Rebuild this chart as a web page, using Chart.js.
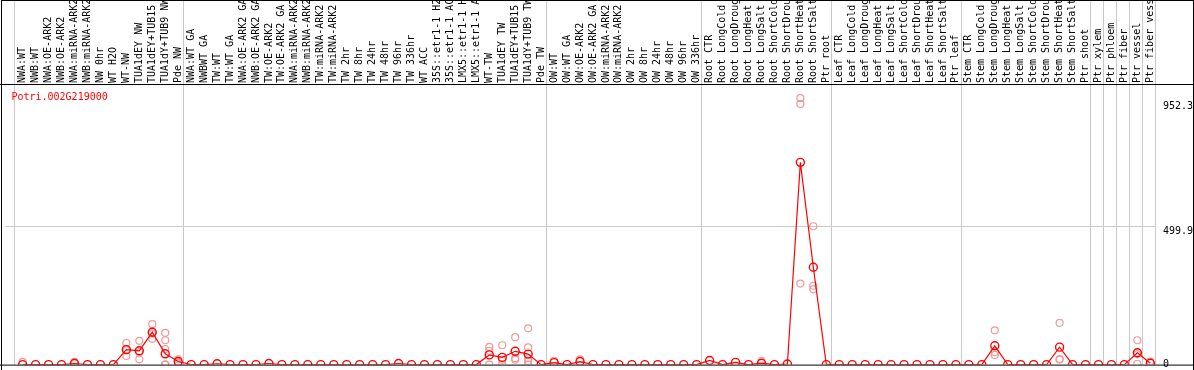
<!DOCTYPE html>
<html>
<head>
<meta charset="utf-8">
<script src="https://cdn.jsdelivr.net/npm/chart.js@4/dist/chart.umd.min.js"></script>
<style>
  html, body { margin: 0; padding: 0; background: #fff; }
  #wrap { width: 1194px; height: 370px; }
</style>
</head>
<body>
<div id="wrap"><canvas id="myChart" width="1194" height="370"></canvas></div>
<script>
const geneName = "Potri.002G219000";

const labels = [
	"NWA:WT", "NWB:WT", "NWA:OE-ARK2", "NWB:OE-ARK2", "NWA:miRNA-ARK2", "NWB:miRNA-ARK2",
	"NW 0hr", "WT H2O", "WT-NW", "TUA1dEY NW", "TUA1dEY+TUB15", "TUA1dY+TUB9 NW", "Pde NW",
	"NWA:WT GA", "NWBWT GA", "TW:WT", "TW:WT GA", "NWA:OE-ARK2 GA", "NWB:OE-ARK2 GA",
	"TW:OE-ARK2", "TW:OE-ARK2 GA", "NWA:miRNA-ARK2", "NWB:miRNA-ARK2", "TW:miRNA-ARK2",
	"TW:miRNA-ARK2", "TW 2hr", "TW 8hr", "TW 24hr", "TW 48hr", "TW 96hr", "TW 336hr",
	"WT ACC", "35S::etr1-1 H2O", "35S::etr1-1 ACC", "LMX5::etr1-1 H2O", "LMX5::etr1-1 ACC",
	"WT-TW", "TUA1dEY TW", "TUA1dEY+TUB15", "TUA1dY+TUB9 TW", "Pde TW",
	"OW:WT", "OW:WT GA", "OW:OE-ARK2", "OW:OE-ARK2 GA", "OW:miRNA-ARK2", "OW:miRNA-ARK2",
	"OW 2hr", "OW 8hr", "OW 24hr", "OW 48hr", "OW 96hr", "OW 336hr",
	"Root CTR", "Root LongCold", "Root LongDrought", "Root LongHeat", "Root LongSalt",
	"Root ShortCold", "Root ShortDrought", "Root ShortHeat", "Root ShortSalt", "Ptr root",
	"Leaf CTR", "Leaf LongCold", "Leaf LongDrought", "Leaf LongHeat", "Leaf LongSalt",
	"Leaf ShortCold", "Leaf ShortDrought", "Leaf ShortHeat", "Leaf ShortSalt", "Ptr leaf",
	"Stem CTR", "Stem LongCold", "Stem LongDrought", "Stem LongHeat", "Stem LongSalt",
	"Stem ShortCold", "Stem ShortDrought", "Stem ShortHeat", "Stem ShortSalt", "Ptr shoot",
	"Ptr xylem", "Ptr phloem", "Ptr fiber", "Ptr vessel", "Ptr fiber vessel"
];

// mean expression per sample
const means = [
	0, 0, 0, 0, 4, 0, 0, 0, 54, 50, 117, 39, 11,
	0, 0, 3, 0, 0, 0, 4, 0, 0, 0, 0, 0, 0, 0, 0, 0, 4, 0,
	0, 0, 0, 0, 0, 35, 26, 48, 38, 0,
	7, 0, 11, 0, 0, 0, 0, 0, 0, 0, 0, 0,
	15, 0, 8, 0, 5, 0, 2, 731, 352, 0,
	0, 0, 0, 0, 0, 0, 0, 0, 0, 0,
	0, 0, 68, 0, 0, 0, 0, 63, 0, 0,
	0, 0, 0, 43, 5
];

// individual replicates (only where they show apart from the mean)
const replicates = {
	0: [10], 4: [10], 8: [78, 52, 31], 9: [86, 45, 19], 10: [146, 112, 93],
	11: [115, 88, 56, 0, 0, 0], 12: [19, 8, 5],
	36: [64, 50, 0], 37: [70, 17, 0], 38: [99, 23, 18], 39: [131, 62, 23, 13, 0],
	41: [14], 43: [19], 57: [14],
	60: [963, 942, 293], 61: [500, 285, 272],
	75: [124, 45, 35], 80: [151, 20, 18], 86: [88, 38, 3], 87: [11]
};

// first sample index of each block, drawn as separators
const groupStarts = [0, 13, 41, 53, 63, 73, 83, 84, 85, 86, 87, 88];

const yTicks = [0, 499.9, 952.3];
const yMax = 1010.5;

const monoFont = { family: "'DejaVu Sans Mono', monospace", size: 10 };

const meanPoints = means.map((v, i) => ({ x: i, y: v }));
const repPoints = [];
Object.keys(replicates).forEach((k) => {
	replicates[k].forEach((v) => repPoints.push({ x: Number(k), y: v }));
});

const noPadding = (axis) => {
	axis.paddingLeft = 0;
	axis.paddingRight = 0;
	axis.paddingTop = 0;
	axis.paddingBottom = 0;
};

const framePlugin = {
	id: "frame",
	beforeDatasetsDraw(chart) {
		const { ctx, chartArea, scales } = chart;
		ctx.save();
		ctx.strokeStyle = "#c8c8c8";
		ctx.lineWidth = 1;
		groupStarts.forEach((g) => {
			const x = Math.round(scales.x.getPixelForValue(g - 0.64)) + 0.5;
			ctx.beginPath();
			ctx.moveTo(x, 0);
			ctx.lineTo(x, chartArea.bottom);
			ctx.stroke();
		});
		ctx.fillStyle = "#ff0000";
		ctx.font = "10px 'DejaVu Sans Mono'";
		ctx.textBaseline = "top";
		ctx.fillText(geneName, chartArea.left + 6, chartArea.top + 7);
		ctx.restore();
	},
	afterDraw(chart) {
		const { ctx, chartArea } = chart;
		ctx.save();
		ctx.strokeStyle = "#000";
		ctx.lineWidth = 1;
		ctx.beginPath();
		ctx.moveTo(1.5, 0.5);
		ctx.lineTo(1193.5, 0.5);
		ctx.moveTo(1.5, 0);
		ctx.lineTo(1.5, 370);
		ctx.moveTo(1193.5, 0);
		ctx.lineTo(1193.5, 370);
		ctx.moveTo(0, chartArea.top - 0.5);
		ctx.lineTo(1194, chartArea.top - 0.5);
		ctx.moveTo(0, chartArea.bottom + 0.5);
		ctx.lineTo(1194, chartArea.bottom + 0.5);
		ctx.stroke();
		ctx.restore();
	},
};

const config = {
	type: "line",
	data: {
		datasets: [
			{
				data: meanPoints,
				borderColor: "#ff0000",
				borderWidth: 1.2,
				pointRadius: 4,
				pointBorderWidth: 1.4,
				pointBorderColor: "#ff0000",
				pointBackgroundColor: "rgba(255,255,255,0)",
				tension: 0,
				clip: 0,
			},
			{
				data: repPoints,
				showLine: false,
				pointRadius: 3.5,
				pointBorderWidth: 1.2,
				pointBorderColor: "#f09a9a",
				pointBackgroundColor: "rgba(255,255,255,0)",
				clip: 0,
			},
		],
	},
	options: {
		responsive: false,
		animation: false,
		events: [],
		layout: {
			padding: { left: 2, right: 1, top: 0, bottom: 2 },
		},
		plugins: {
			legend: { display: false },
			tooltip: { enabled: false },
		},
		scales: {
			x: {
				type: "linear",
				position: "top",
				min: -1.331,
				max: 87.36,
				afterBuildTicks: (axis) => {
					axis.ticks = labels.map((l, i) => ({ value: i }));
				},
				afterFit: (axis) => {
					axis.height = 85;
					noPadding(axis);
				},
				grid: { display: false, drawTicks: false },
				border: { display: false },
				ticks: {
					autoSkip: false,
					minRotation: 90,
					maxRotation: 90,
					padding: 2,
					labelOffset: 12,
					color: "#000",
					font: monoFont,
					callback: (val, i) => labels[i],
				},
			},
			y: {
				type: "linear",
				position: "right",
				min: 0,
				max: yMax,
				afterBuildTicks: (axis) => {
					axis.ticks = yTicks.map((v) => ({ value: v }));
				},
				afterFit: (axis) => {
					axis.width = 38;
					noPadding(axis);
				},
				border: { display: false },
				grid: {
					drawTicks: false,
					color: (c) => (c.tick && c.tick.value === 499.9 ? "#c8c8c8" : "rgba(0,0,0,0)"),
				},
				ticks: {
					align: "start",
					padding: 8,
					color: "#000",
					font: (c) => ({ family: monoFont.family, size: 10, lineHeight: c.index === 0 ? "11px" : 1.2 }),
					callback: (val, i) => (i === 0 ? ["0", ""] : String(yTicks[i])),
				},
			},
		},
	},
	plugins: [framePlugin],
};

const ctx = document.getElementById("myChart").getContext("2d");
new Chart(ctx, config);
</script>
</body>
</html>
